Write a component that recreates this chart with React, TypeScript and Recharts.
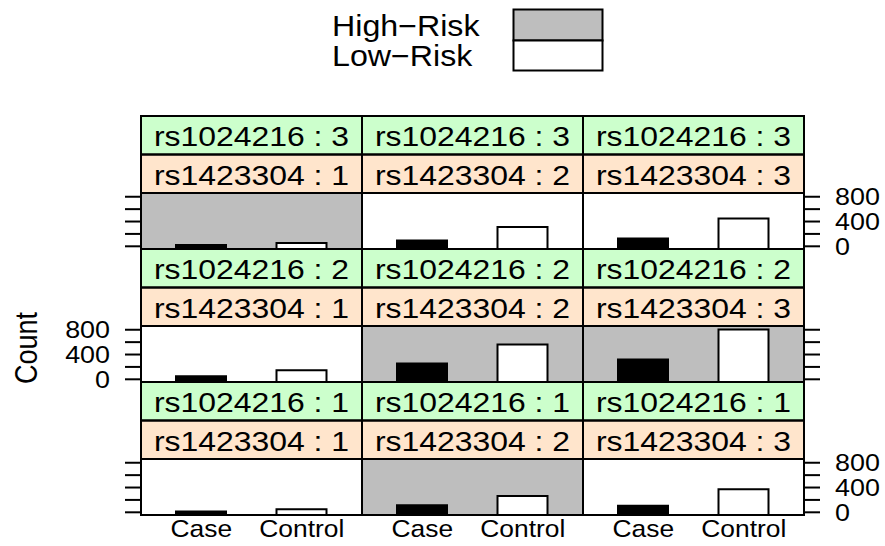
import React from 'react';
import { BarChart, Bar, XAxis, YAxis, Cell } from 'recharts';

// ---- data ----
const groups = ['Case', 'Control'];
const rs1024216Levels = ['3', '2', '1']; // panel rows, top to bottom
const rs1423304Levels = ['1', '2', '3']; // panel columns, left to right
const caseRow3 = [21, 92, 125]; // rs1024216 : 3
const caseRow2 = [49, 254, 319]; // rs1024216 : 2
const caseRow1 = [12, 112, 107]; // rs1024216 : 1
const controlRow3 = [53, 313, 449];
const controlRow2 = [146, 562, 805];
const controlRow1 = [50, 262, 373];
const riskRow3 = ['High', 'Low', 'Low'];
const riskRow2 = ['Low', 'High', 'High'];
const riskRow1 = ['Low', 'High', 'Low'];
const yTicks = [0, 200, 400, 600, 800];
const yTickLabels = ['0', '400', '800'];
const legendLabels = ['High\u2212Risk', 'Low\u2212Risk'];
const yAxisTitle = 'Count';
const stripPrefixTop = 'rs1024216';
const stripPrefixBottom = 'rs1423304';

const caseCounts = [caseRow3, caseRow2, caseRow1];
const controlCounts = [controlRow3, controlRow2, controlRow1];
const risk = [riskRow3, riskRow2, riskRow1];

// ---- layout / style ----
const FONT = '"Liberation Sans", Arial, Helvetica, sans-serif';
const SX = 1.14;
const X0 = 141;
const COLW = 221;
const Y0 = 116;
const ROWH = 133;
const STRIPH = 38.5;
const PANELH = 56;
const M = 14; // extra room above/below the plot for tick labels
const GREEN = '#CCFFCC';
const PEACH = '#FFE5CC';
const GRAY = '#BEBEBE';
const LW = 2;

const allVals = [...caseCounts.flat(), ...controlCounts.flat()];
const lo = Math.min(...allVals);
const hi = Math.max(...allVals);
const pad = 0.07 * (hi - lo);
const yMin = lo - pad;
const yMax = hi + pad;

function SText({ x, y, size, anchor, children, sx = SX }: any) {
  return (
    <text
      transform={`translate(${x},${y}) scale(${sx},1)`}
      fontSize={size}
      textAnchor={anchor}
      fontFamily={FONT}
      fill="#000"
    >
      {children}
    </text>
  );
}

function YTick(props: any) {
  const { x, y, payload, side, show } = props;
  const v = String(payload.value);
  if (!show || !yTickLabels.includes(v)) return <g />;
  return (
    <SText x={x} y={y + 8.6} size={24} anchor={side === 'left' ? 'end' : 'start'} sx={1.12}>
      {v}
    </SText>
  );
}

function XTick(props: any) {
  const { x, y, payload } = props;
  return (
    <SText x={x} y={y + 21.7} size={24} anchor="middle" sx={1.1}>
      {payload.value}
    </SText>
  );
}

function Panel({ r, c }: { r: number; c: number }) {
  const leftW = c === 0 ? 100 : 0;
  const rightW = c === 2 ? 80 : 0;
  const bottomH = r === 2 ? 31 : 0;
  const bottomM = r === 2 ? 0 : M;
  const data = groups.map((g, i) => ({
    name: g,
    range: [yMin, i === 0 ? caseCounts[r][c] : controlCounts[r][c]],
  }));
  const labeledSide = r % 2 === 1 ? 'left' : 'right';
  const yCommon = {
    yAxisId: 'y',
    type: 'number' as const,
    domain: [yMin, yMax],
    allowDataOverflow: true,
    ticks: yTicks,
    interval: 0 as const,
    axisLine: false,
    tickSize: 16,
    tickMargin: 15,
    tickLine: { stroke: '#000', strokeWidth: LW },
  };
  return (
    <div
      style={{
        position: 'absolute',
        left: X0 + c * COLW - leftW,
        top: Y0 + r * ROWH + 2 * STRIPH - M,
      }}
    >
      <BarChart
        width={leftW + COLW + rightW}
        height={PANELH + bottomH + M + bottomM}
        data={data}
        margin={{ top: M, right: 0, bottom: bottomM, left: 0 }}
      >
        <XAxis
          dataKey="name"
          type="category"
          padding={{ left: 10, right: 10 }}
          hide={r !== 2}
          axisLine={false}
          tickLine={false}
          tickSize={0}
          tickMargin={0}
          height={bottomH}
          interval={0}
          tick={(p: any) => <XTick {...p} />}
        />
        {c === 0 && (
          <YAxis
            {...yCommon}
            orientation="left"
            width={leftW}
            tick={(p: any) => <YTick {...p} side="left" show={labeledSide === 'left'} />}
          />
        )}
        {c === 2 && (
          <YAxis
            {...yCommon}
            orientation="right"
            width={rightW}
            tick={(p: any) => <YTick {...p} side="right" show={labeledSide === 'right'} />}
          />
        )}
        {c === 1 && <YAxis yAxisId="y" type="number" domain={[yMin, yMax]} allowDataOverflow hide width={0} />}
        <Bar
          yAxisId="y"
          dataKey="range"
          barSize={50}
          stroke="#000"
          strokeWidth={LW}
          isAnimationActive={false}
        >
          {data.map((d, i) => (
            <Cell key={d.name} fill={i === 0 ? '#000000' : '#FFFFFF'} />
          ))}
        </Bar>
      </BarChart>
    </div>
  );
}

export default function App() {
  const rows = [0, 1, 2];
  const cols = [0, 1, 2];
  return (
    <div
      style={{
        position: 'absolute',
        left: 0,
        top: 0,
        width: 885,
        height: 546,
        background: '#fff',
        overflow: 'hidden',
      }}
    >
      {/* backgrounds and strips */}
      <svg width={885} height={546} style={{ position: 'absolute', left: 0, top: 0 }}>
        {rows.map((r) =>
          cols.map((c) => {
            const x = X0 + c * COLW;
            const y = Y0 + r * ROWH;
            return (
              <g key={`s${r}${c}`}>
                <rect x={x} y={y} width={COLW} height={STRIPH} fill={GREEN} />
                <rect x={x} y={y + STRIPH} width={COLW} height={STRIPH} fill={PEACH} />
                <rect
                  x={x}
                  y={y + 2 * STRIPH}
                  width={COLW}
                  height={PANELH}
                  fill={risk[r][c] === 'High' ? GRAY : '#FFFFFF'}
                />
                <SText x={x + COLW / 2} y={y + STRIPH / 2 + 11} size={28} anchor="middle">
                  {`${stripPrefixTop} : ${rs1024216Levels[r]}`}
                </SText>
                <SText x={x + COLW / 2} y={y + STRIPH * 1.5 + 11} size={28} anchor="middle">
                  {`${stripPrefixBottom} : ${rs1423304Levels[c]}`}
                </SText>
              </g>
            );
          })
        )}
        {/* legend */}
        <SText x={332} y={35.7} size={29} anchor="start" sx={1.11}>
          {legendLabels[0]}
        </SText>
        <SText x={332} y={66} size={29} anchor="start" sx={1.11}>
          {legendLabels[1]}
        </SText>
        <rect x={513.5} y={9.5} width={89} height={31} fill={GRAY} stroke="#000" strokeWidth={LW} />
        <rect x={513.5} y={40.5} width={89} height={30} fill="#FFFFFF" stroke="#000" strokeWidth={LW} />
        {/* y title */}
        <text
          transform={`translate(37,348) scale(${SX},1) rotate(-90)`}
          fontSize={27}
          textAnchor="middle"
          fontFamily={FONT}
          fill="#000"
        >
          {yAxisTitle}
        </text>
      </svg>

      {rows.map((r) => cols.map((c) => <Panel key={`p${r}${c}`} r={r} c={c} />))}

      {/* borders on top */}
      <svg
        width={885}
        height={546}
        style={{ position: 'absolute', left: 0, top: 0, pointerEvents: 'none' }}
      >
        {rows.map((r) =>
          cols.map((c) => {
            const x = X0 + c * COLW;
            const y = Y0 + r * ROWH;
            return (
              <g key={`b${r}${c}`} fill="none" stroke="#000" strokeWidth={LW}>
                <rect x={x} y={y} width={COLW} height={STRIPH} />
                <rect x={x} y={y + STRIPH} width={COLW} height={STRIPH} />
                <rect x={x} y={y + 2 * STRIPH} width={COLW} height={PANELH} />
              </g>
            );
          })
        )}
      </svg>
    </div>
  );
}
